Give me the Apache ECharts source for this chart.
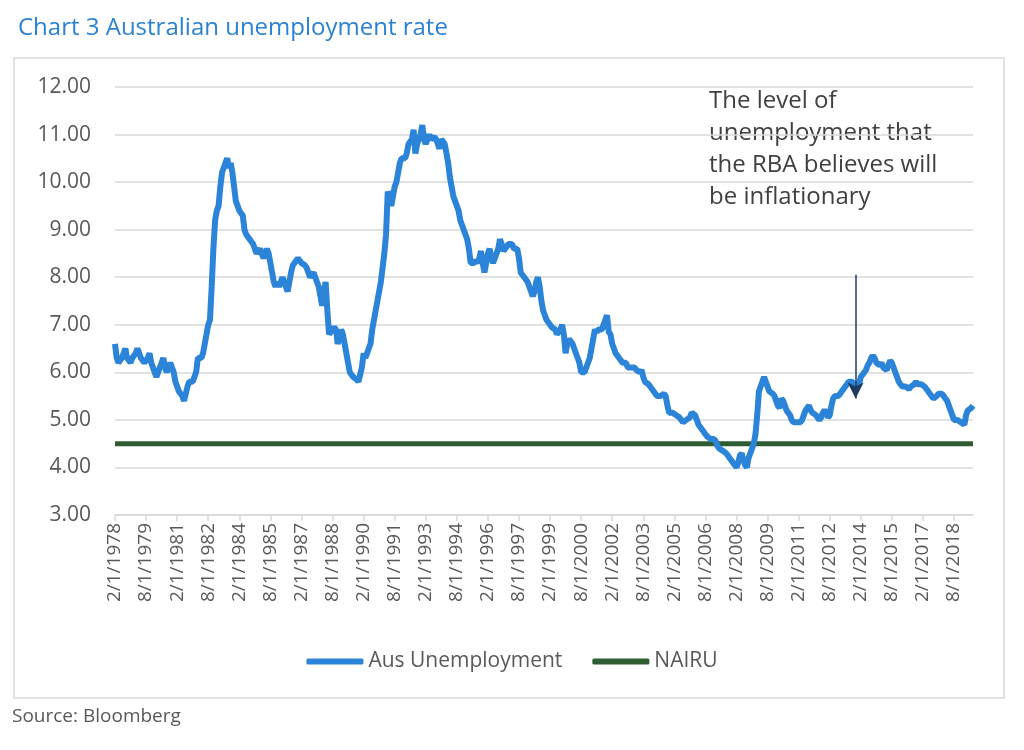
<!DOCTYPE html>
<html>
<head>
<meta charset="utf-8">
<script src="https://cdn.jsdelivr.net/npm/echarts@6/dist/echarts.min.js"></script>
<style>
  html, body { margin: 0; padding: 0; background: #fff; }
  #chart { width: 1024px; height: 750px; }
</style>
</head>
<body>
<div id="chart"></div>
<script>
// monthly unemployment rate (%), Feb 1978 onward
var u1978_1989 = [
  6.6, 6.3, 6.2, 6.2, 6.3, 6.3, 6.5, 6.3, 6.3, 6.2, 6.3,
  6.3, 6.4, 6.5, 6.4, 6.3, 6.3, 6.2, 6.2, 6.3, 6.4, 6.2, 6.1,
  6.0, 5.9, 5.9, 6.1, 6.2, 6.3, 6.1, 6.0, 6.1, 6.2, 6.1, 6.0,
  5.8, 5.7, 5.6, 5.6, 5.5, 5.4, 5.4, 5.7, 5.8, 5.8, 5.8, 5.9,
  6.0, 6.3, 6.3, 6.3, 6.4, 6.6, 6.8, 7.0, 7.1, 7.8, 8.6, 9.2,
  9.4, 9.5, 9.9, 10.2, 10.3, 10.4, 10.5, 10.3, 10.4, 10.2, 9.9, 9.6,
  9.5, 9.4, 9.4, 9.3, 9.0, 8.9, 8.9, 8.8, 8.8, 8.7, 8.6, 8.5,
  8.5, 8.6, 8.6, 8.4, 8.4, 8.6, 8.5, 8.3, 8.1, 7.9, 7.8, 7.9,
  7.8, 7.9, 8.0, 7.9, 7.8, 7.7, 7.9, 8.1, 8.25, 8.3, 8.35, 8.4,
  8.4, 8.3, 8.3, 8.25, 8.2, 8.1, 8.0, 8.0, 8.1, 8.1, 7.9, 7.8,
  7.6, 7.4, 7.7, 7.9, 7.3, 6.8, 6.8, 6.9, 6.95, 6.9, 6.6, 6.7,
  6.9, 6.8, 6.6, 6.4, 6.2, 6.0, 5.95, 5.9, 5.9, 5.85, 5.8, 5.8
];
var u1990_1999 = [
  6.1, 6.4, 6.3, 6.3, 6.5, 6.6, 6.9, 7.1, 7.3, 7.5, 7.7, 7.9,
  8.2, 8.5, 8.9, 9.8, 9.7, 9.5, 9.7, 9.9, 10.0, 10.2, 10.4, 10.5,
  10.5, 10.5, 10.6, 10.8, 10.8, 10.9, 11.1, 10.6, 10.8, 10.9, 11.0, 11.2,
  10.9, 10.8, 10.9, 11.0, 10.9, 10.9, 10.95, 10.9, 10.8, 10.7, 10.9, 10.9,
  10.8, 10.6, 10.4, 10.1, 9.9, 9.7, 9.6, 9.5, 9.4, 9.2, 9.1, 9.0,
  8.9, 8.8, 8.6, 8.3, 8.3, 8.3, 8.35, 8.3, 8.4, 8.55, 8.3, 8.1,
  8.3, 8.5, 8.6, 8.4, 8.3, 8.3, 8.5, 8.6, 8.8, 8.7, 8.55, 8.6,
  8.6, 8.7, 8.7, 8.7, 8.6, 8.6, 8.6, 8.4, 8.1, 8.1, 8.0, 7.95,
  7.9, 7.8, 7.7, 7.6, 7.7, 7.9, 8.0, 7.8, 7.5, 7.3, 7.2, 7.1,
  7.1, 7.0, 6.95, 6.95, 6.9, 6.8, 6.8, 6.9, 7.0, 6.8, 6.4, 6.6
];
var u2000_2009 = [
  6.7, 6.7, 6.6, 6.5, 6.4, 6.3, 6.2, 6.0, 6.0, 6.0, 6.1, 6.2,
  6.3, 6.5, 6.7, 6.9, 6.85, 6.9, 6.9, 6.9, 7.0, 7.1, 7.2, 6.85,
  6.8, 6.6, 6.5, 6.4, 6.4, 6.3, 6.3, 6.2, 6.2, 6.2, 6.1, 6.1,
  6.1, 6.1, 6.1, 6.05, 6.05, 6.0, 6.05, 5.9, 5.8, 5.8, 5.75, 5.7,
  5.65, 5.6, 5.55, 5.5, 5.5, 5.5, 5.5, 5.55, 5.5, 5.3, 5.15, 5.15,
  5.15, 5.15, 5.1, 5.1, 5.05, 5.0, 4.95, 4.95, 5.0, 5.0, 5.05, 5.15,
  5.15, 5.1, 5.0, 4.9, 4.85, 4.8, 4.75, 4.7, 4.65, 4.65, 4.6, 4.6,
  4.6, 4.55, 4.45, 4.4, 4.4, 4.35, 4.35, 4.3, 4.25, 4.2, 4.2, 4.1,
  4.05, 4.0, 4.1, 4.25, 4.3, 4.15, 4.05, 4.0, 4.2, 4.3, 4.3, 4.5,
  4.7, 5.1, 5.6, 5.7, 5.8, 5.9, 5.8, 5.7, 5.6, 5.6, 5.55, 5.5
];
var u2010_2019 = [
  5.4, 5.3, 5.25, 5.45, 5.4, 5.3, 5.2, 5.15, 5.1, 5.0, 4.95, 4.95,
  4.95, 4.95, 4.95, 5.0, 5.1, 5.2, 5.25, 5.3, 5.2, 5.15, 5.15, 5.1,
  5.05, 5.0, 5.05, 5.15, 5.2, 5.15, 5.05, 5.1, 5.3, 5.45, 5.5, 5.5,
  5.5, 5.55, 5.6, 5.65, 5.7, 5.75, 5.8, 5.8, 5.8, 5.75, 5.7, 5.7,
  5.75, 5.9, 5.95, 5.95, 6.05, 6.15, 6.2, 6.3, 6.35, 6.3, 6.2, 6.2,
  6.15, 6.2, 6.1, 6.1, 6.05, 6.15, 6.25, 6.2, 6.1, 6.0, 5.9, 5.8,
  5.75, 5.7, 5.7, 5.7, 5.7, 5.65, 5.7, 5.7, 5.75, 5.8, 5.75, 5.75,
  5.75, 5.75, 5.7, 5.65, 5.6, 5.55, 5.5, 5.45, 5.45, 5.5, 5.55, 5.55,
  5.55, 5.5, 5.45, 5.4, 5.3, 5.2, 5.1, 5.0, 5.0, 5.0, 5.0, 4.95,
  4.95, 4.9, 5.1, 5.2, 5.2, 5.25, 5.3
];
var nairuLevel = 4.5;
var arrowDate = '11/1/2013';
var arrowFrom = 8.05;
var arrowTo = 5.45;
var yTicks = [3, 12, 1];   // min, max, step

var unemployment = u1978_1989.concat(u1990_1999, u2000_2009, u2010_2019);

// month/1/year labels starting Feb 1978
var dates = [];
for (var i = 0; i < unemployment.length; i++) {
  var mon = (1 + i) % 12 + 1;
  var yr = 1978 + Math.floor((1 + i) / 12);
  dates.push(mon + '/1/' + yr);
}
var nairu = [[dates[0], nairuLevel], [dates[dates.length - 1], nairuLevel]];

var grey = '#595959';
var font = '"Open Sans", "Noto Sans", sans-serif';

var chart = echarts.init(document.getElementById('chart'));

var option = {
  animation: false,
  textStyle: { fontFamily: font },
  title: {
    text: 'Chart 3 Australian unemployment rate',
    left: 13,
    top: 11,
    textStyle: { color: '#2b82d4', fontSize: 24, fontWeight: 'normal', fontFamily: font }
  },
  graphic: [{
    type: 'rect',
    z: -10,
    shape: { x: 14, y: 58, width: 990, height: 640 },
    style: { fill: 'none', stroke: '#d9d9d9', lineWidth: 1.5 }
  }, {
    type: 'text',
    left: 12,
    top: 707,
    style: { text: 'Source: Bloomberg', fill: grey, fontSize: 19, fontFamily: font }
  }, {
    type: 'text',
    left: 709,
    top: 85,
    style: {
      text: 'The level of\nunemployment that\nthe RBA believes will\nbe inflationary',
      fill: '#404040',
      fontSize: 24,
      lineHeight: 32,
      fontFamily: font
    }
  }],
  legend: {
    top: 646,
    left: 'center',
    itemWidth: 57,
    itemHeight: 6,
    itemGap: 30,
    textStyle: { color: grey, fontSize: 21, fontFamily: font },
    data: [
      { name: 'Aus Unemployment', icon: 'roundRect' },
      { name: 'NAIRU', icon: 'roundRect' }
    ]
  },
  grid: { left: 115, right: 51, top: 87, bottom: 235 },
  xAxis: {
    type: 'category',
    data: dates,
    boundaryGap: false,
    axisLine: { lineStyle: { color: '#d9d9d9', width: 1.5 } },
    axisTick: { show: true, interval: 17, length: 6, lineStyle: { color: '#d9d9d9', width: 1.5 } },
    axisLabel: {
      interval: 17,
      rotate: 90,
      margin: 8,
      color: grey,
      fontSize: 19,
      fontFamily: font
    }
  },
  yAxis: {
    type: 'value',
    min: yTicks[0],
    max: yTicks[1],
    interval: yTicks[2],
    axisLine: { show: false },
    axisTick: { show: false },
    splitLine: { lineStyle: { color: '#d9d9d9', width: 1.5 } },
    axisLabel: {
      margin: 24,
      color: grey,
      fontSize: 21,
      fontFamily: font,
      formatter: function (v) { return v.toFixed(2); }
    }
  },
  series: [{
    name: 'Aus Unemployment',
    type: 'line',
    data: unemployment,
    showSymbol: false,
    symbol: 'none',
    lineStyle: { color: '#2b84d8', width: 6 },
    itemStyle: { color: '#2b84d8' },
    z: 3,
    markLine: {
      silent: true,
      animation: false,
      label: { show: false },
      lineStyle: { color: '#1f3a5f', width: 1.5, type: 'solid' },
      symbolSize: [12, 16],
      data: [[
        { coord: [arrowDate, arrowFrom], symbol: 'none' },
        { coord: [arrowDate, arrowTo], symbol: 'arrow' }
      ]]
    }
  }, {
    name: 'NAIRU',
    type: 'line',
    data: nairu,
    showSymbol: false,
    symbol: 'none',
    lineStyle: { color: '#2e5c33', width: 5 },
    itemStyle: { color: '#2e5c33' },
    z: 2
  }]
};

chart.setOption(option);
</script>
</body>
</html>
